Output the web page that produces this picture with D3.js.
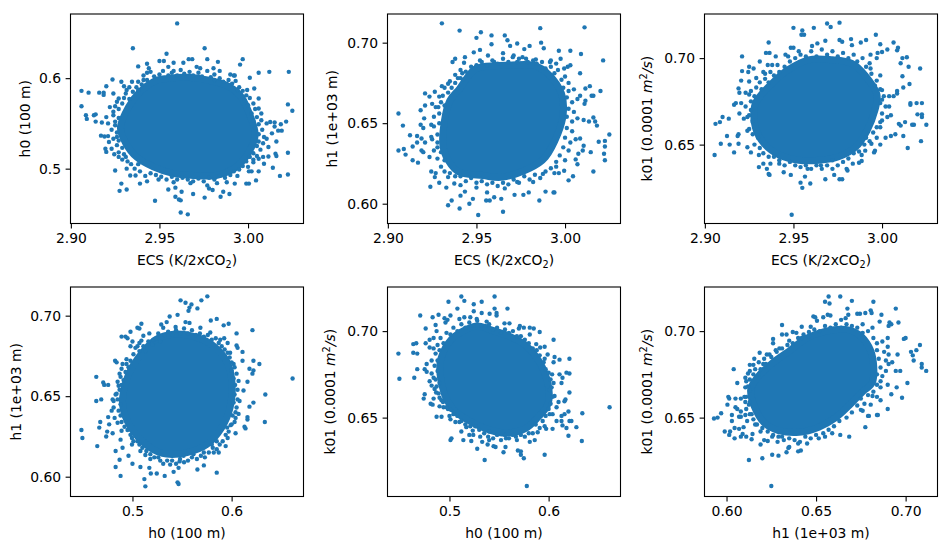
<!DOCTYPE html>
<html>
<meta charset="utf-8">
<style>
body { margin: 0; background: #fff; }
text { font-family: "DejaVu Sans", sans-serif; font-size: 13.9px; fill: #000; }
.domain { display: none; }
.tick line { stroke: #000; stroke-width: 1.1; }
.frame { fill: none; stroke: #000; stroke-width: 1.1; }
</style>
<body>
<script src="https://cdn.jsdelivr.net/npm/d3@7"></script>
<script>

var color = '#1f77b4';

/* axis limits and ticks */
var ecsDomain = [2.8998, 3.0313], h0Domain = [0.4375, 0.6725],
    h0YDomain = [0.4394, 0.6709], h1Domain = [0.5877, 0.7178], k01Domain = [0.6044, 0.7255];
var ecsTicks = [2.90, 2.95, 3.00], h0Ticks = [0.5, 0.6], h1Ticks = [0.60, 0.65, 0.70], k01Ticks = [0.65, 0.70];

/* Points are [x, y] as read one by one. Where the marks overlap into solid colour single
   points can't be read, so the *Core arrays hold the outline of that solid region and the
   *Edge arrays are estimated points along its rough edge. */
var ecsH0Core = [[2.954,.5995],[2.9655,.601],[2.977,.598],[2.988,.592],[2.9955,.581],[3.000,.5645],[3.004,.539],[3.001,.520],[2.9935,.502],[2.982,.4925],[2.969,.4925],[2.958,.4945],[2.9465,.502],[2.937,.513],[2.931,.528],[2.928,.546],[2.9325,.568],[2.939,.585],[2.9465,.596]];
var ecsH0Edge = [[2.941,.603],[2.945,.607],[2.947,.602],[2.950,.604],[2.952,.608],[2.955,.603],[2.957,.606],[2.960,.603],[2.962,.609],[2.964,.605],[2.967,.607],[2.969,.603],[2.972,.606],[2.974,.602],[2.977,.608],[2.979,.601],[2.981,.598],[2.984,.600],[2.986,.596],[2.989,.598],[2.991,.594],[2.993,.597],[2.995,.590],[2.997,.586],[2.994,.587],[2.999,.581],[3.001,.578],[2.998,.575],[3.003,.572],[3.000,.570],[3.004,.566],[3.002,.561],[3.005,.557],[3.003,.553],[3.006,.549],[3.004,.545],[3.008,.543],[3.006,.538],[3.009,.535],[3.006,.530],[3.005,.525],[3.007,.521],[3.003,.517],[3.005,.514],[3.001,.513],[3.003,.507],[2.999,.508],[2.997,.503],[3.000,.502],[2.995,.499],[2.992,.497],[2.994,.492],[2.990,.493],[2.987,.490],[2.984,.492],[2.981,.488],[2.978,.490],[2.975,.486],[2.972,.489],[2.969,.486],[2.966,.488],[2.963,.490],[2.960,.488],[2.957,.491],[2.954,.488],[2.951,.491],[2.948,.493],[2.945,.495],[2.942,.492],[2.939,.497],[2.936,.500],[2.938,.505],[2.934,.505],[2.932,.508],[2.929,.510],[2.930,.516],[2.927,.518],[2.929,.523],[2.926,.526],[2.927,.531],[2.924,.533],[2.926,.540],[2.923,.543],[2.925,.552],[2.927,.556],[2.924,.563],[2.927,.566],[2.929,.572],[2.926,.574],[2.930,.578],[2.933,.577],[2.931,.583],[2.935,.585],[2.933,.590],[2.937,.590],[2.940,.593],[2.938,.587],[2.943,.598]];
var ecsH0 = [[2.960,.6605],[2.935,.633],[2.9755,.633],[2.954,.627],[2.950,.619],[2.9525,.619],[2.958,.617],[2.977,.621],[2.983,.618],[2.997,.621],[2.9955,.615],[2.9665,.621],[2.9685,.621],[2.9635,.617],[2.938,.613],[2.943,.616],[3.006,.606],[3.012,.607],[3.023,.607],[3.0225,.571],[3.025,.564],[2.906,.586],[2.910,.584],[2.906,.569],[2.916,.584],[2.9185,.584],[2.9185,.5815],[2.920,.591],[2.9235,.5985],[2.924,.583],[2.9085,.559],[2.909,.555],[2.913,.559],[2.914,.560],[2.914,.552],[2.9175,.551],[2.917,.5365],[2.919,.5355],[2.921,.536],[2.9195,.522],[2.920,.5185],[2.925,.498],[2.9285,.4835],[2.9275,.4755],[2.9315,.477],[2.9475,.4645],[2.962,.4515],[2.966,.4495],[2.962,.465],[2.961,.466],[2.959,.469],[2.9625,.4745],[2.955,.477],[2.959,.479],[2.969,.472],[2.9755,.468],[2.9845,.469],[2.9895,.472],[2.986,.4745],[2.978,.478],[2.980,.4765],[2.9925,.4835],[2.999,.4835],[3.0005,.4835],[3.0045,.487],[3.014,.501],[3.018,.492],[3.0225,.4935],[3.0225,.5175],[3.0155,.5165],[3.016,.514],[3.016,.530],[3.019,.542],[3.0215,.552],[3.0185,.549],[3.015,.551],[3.015,.5465],[3.017,.542],[3.0135,.539],[3.009,.5055],[3.006,.497],[3.002,.497],[3.0005,.497],[3.006,.511],[3.0085,.513],[3.0115,.5135],[3.003,.51],[3.0115,.524],[3.0085,.528],[3.0105,.533],[3.0125,.5515],[3.0105,.55],[3.0075,.5535],[3.0075,.561],[3.006,.5665],[3.006,.5775],[3.0035,.5885],[3.001,.6005],[2.9995,.587],[2.990,.604],[2.992,.603],[2.9925,.603],[2.984,.608],[2.9805,.611],[2.981,.604],[2.973,.611],[2.971,.6125],[2.958,.608],[2.955,.6125],[2.944,.611],[2.943,.606],[2.941,.598],[2.938,.596],[2.9345,.596],[2.9285,.596],[2.930,.591],[2.9315,.587],[2.927,.5775],[2.925,.569],[2.922,.568],[2.924,.559],[2.920,.557],[2.921,.55],[2.925,.548],[2.926,.535],[2.9215,.5295],[2.923,.522],[2.9245,.516],[2.927,.513],[2.931,.513],[2.9315,.5],[2.9335,.4925],[2.9365,.4925],[2.939,.4835],[2.943,.486],[2.9495,.488],[2.958,.485],[2.9675,.484],[2.977,.4815],[2.9825,.484],[2.988,.485]];

var ecsH1Core = [[2.9535,.685],[2.9685,.686],[2.982,.686],[2.991,.680],[2.998,.6685],[2.999,.656],[2.996,.6435],[2.989,.629],[2.980,.622],[2.965,.6165],[2.9535,.6175],[2.9405,.6195],[2.934,.627],[2.931,.637],[2.932,.652],[2.935,.664],[2.9405,.6715],[2.9475,.682]];
var ecsH1Edge = [[2.941,.678],[2.944,.682],[2.947,.685],[2.950,.686],[2.953,.688],[2.956,.686],[2.959,.689],[2.962,.687],[2.965,.690],[2.968,.688],[2.971,.692],[2.973,.688],[2.976,.691],[2.979,.688],[2.982,.689],[2.984,.687],[2.987,.688],[2.989,.684],[2.992,.685],[2.994,.681],[2.996,.683],[2.998,.677],[3.000,.679],[3.002,.675],[2.999,.672],[3.002,.670],[3.005,.671],[3.001,.666],[3.004,.663],[3.007,.665],[3.002,.659],[3.005,.657],[3.001,.654],[3.004,.651],[3.007,.653],[3.001,.647],[3.004,.645],[3.000,.641],[3.003,.638],[3.006,.640],[2.999,.635],[3.002,.633],[2.997,.630],[3.000,.627],[2.995,.626],[2.992,.622],[2.994,.619],[2.989,.620],[2.986,.616],[2.983,.618],[2.980,.615],[2.977,.617],[2.974,.613],[2.971,.615],[2.968,.612],[2.965,.613],[2.962,.611],[2.959,.613],[2.956,.612],[2.953,.614],[2.950,.613],[2.947,.616],[2.944,.614],[2.941,.617],[2.938,.617],[2.935,.619],[2.932,.620],[2.930,.623],[2.932,.627],[2.928,.628],[2.930,.632],[2.926,.633],[2.928,.638],[2.925,.640],[2.928,.643],[2.926,.648],[2.929,.650],[2.926,.654],[2.929,.656],[2.927,.660],[2.930,.663],[2.932,.661],[2.931,.667],[2.934,.669],[2.932,.672],[2.936,.672],[2.935,.676],[2.938,.675],[2.938,.680],[2.941,.683]];
var ecsH1 = [[2.9305,.712],[2.9405,.7075],[2.9525,.7065],[2.950,.703],[2.9585,.7045],[2.966,.7045],[2.9675,.7015],[2.9585,.699],[2.973,.6995],[2.969,.698],[2.980,.698],[2.977,.696],[2.986,.709],[3.011,.7095],[2.9865,.700],[2.988,.6965],[2.9965,.695],[3.003,.695],[3.009,.693],[3.0215,.689],[2.9975,.690],[2.992,.689],[3.003,.686],[3.0015,.685],[3.0085,.681],[2.9995,.684],[3.0115,.6715],[3.014,.673],[3.020,.670],[3.015,.667],[3.016,.667],[3.0085,.667],[3.0115,.664],[3.011,.662],[3.0105,.652],[3.016,.6535],[3.017,.651],[3.0135,.651],[3.018,.6485],[3.025,.643],[3.0225,.639],[3.019,.6385],[3.0225,.6355],[3.022,.631],[3.0225,.627],[3.0145,.632],[3.016,.620],[3.0105,.636],[3.0085,.6405],[3.010,.633],[3.0075,.631],[3.006,.6275],[3.007,.6245],[3.0045,.617],[3.002,.6145],[2.9995,.6205],[2.9965,.619],[2.995,.623],[2.9935,.607],[2.994,.607],[2.989,.6075],[2.9855,.602],[2.9795,.607],[2.9765,.6055],[2.9715,.6055],[2.965,.595],[2.951,.593],[2.946,.600],[2.948,.603],[2.9405,.597],[2.934,.599],[2.936,.602],[2.941,.605],[2.9435,.6075],[2.950,.61],[2.9555,.602],[2.9575,.602],[2.960,.604],[2.964,.603],[2.956,.607],[2.966,.6095],[2.973,.6135],[2.982,.6135],[2.9875,.6185],[2.924,.6105],[2.933,.61],[2.929,.613],[2.9265,.6165],[2.9245,.62],[2.927,.619],[2.934,.6165],[2.9375,.6125],[2.941,.6115],[2.917,.6255],[2.914,.627],[2.910,.6305],[2.906,.633],[2.909,.634],[2.914,.6355],[2.9165,.638],[2.9165,.642],[2.9125,.6425],[2.9085,.6485],[2.906,.656],[2.919,.633],[2.920,.632],[2.919,.6405],[2.921,.638],[2.92,.647],[2.9185,.649],[2.9205,.653],[2.9185,.658],[2.921,.661],[2.921,.6685],[2.9235,.6665],[2.9265,.6695],[2.925,.662],[2.9305,.673],[2.9285,.660],[2.9245,.649],[2.9245,.6415],[2.9235,.629],[2.928,.635],[2.929,.6665],[2.934,.6745],[2.9365,.688],[2.938,.690],[2.9435,.691],[2.943,.6875],[2.9485,.694],[2.952,.6955],[2.952,.689],[2.9565,.692],[2.960,.688],[2.965,.6935],[2.9705,.691],[2.974,.690],[2.978,.690],[2.9835,.6895],[2.9915,.688],[2.995,.687],[2.942,.681],[2.9395,.678],[2.9425,.677]];

var ecsK01Core = [[2.9585,.699],[2.972,.699],[2.983,.697],[2.9905,.690],[2.997,.6795],[2.996,.670],[2.9915,.658],[2.985,.6485],[2.9755,.643],[2.9645,.641],[2.953,.641],[2.942,.644],[2.9335,.6505],[2.9285,.660],[2.928,.672],[2.9315,.6785],[2.938,.6855],[2.9465,.693]];
var ecsK01Edge = [[2.936,.686],[2.939,.690],[2.942,.692],[2.941,.696],[2.945,.695],[2.948,.698],[2.947,.701],[2.951,.700],[2.954,.702],[2.957,.701],[2.960,.704],[2.963,.701],[2.966,.705],[2.969,.702],[2.972,.704],[2.975,.701],[2.978,.703],[2.981,.700],[2.984,.702],[2.986,.698],[2.989,.700],[2.991,.695],[2.993,.697],[2.994,.691],[2.997,.687],[2.996,.684],[2.999,.682],[3.001,.678],[2.999,.674],[3.002,.672],[3.000,.668],[3.003,.666],[2.999,.663],[2.997,.660],[2.995,.657],[2.997,.654],[2.993,.652],[2.991,.654],[2.990,.650],[2.987,.646],[2.984,.645],[2.981,.642],[2.978,.640],[2.975,.638],[2.972,.641],[2.969,.638],[2.966,.636],[2.963,.638],[2.960,.636],[2.957,.638],[2.951,.638],[2.948,.640],[2.945,.638],[2.942,.641],[2.939,.643],[2.936,.643],[2.933,.645],[2.931,.648],[2.928,.650],[2.930,.654],[2.927,.656],[2.925,.659],[2.927,.664],[2.924,.666],[2.926,.670],[2.923,.672],[2.926,.675],[2.928,.678],[2.926,.681],[2.929,.683],[2.932,.682],[2.931,.686],[2.934,.688],[2.933,.692],[2.937,.692]];
var ecsK01 = [[2.949,.6095],[2.950,.7175],[2.955,.716],[2.9545,.7135],[2.956,.7135],[2.9615,.7175],[2.969,.720],[2.971,.718],[2.976,.7205],[2.936,.709],[2.9965,.7135],[2.999,.708],[3.0065,.709],[2.9825,.711],[2.976,.7105],[2.9775,.7095],[2.968,.71],[2.988,.709],[2.991,.7105],[2.983,.7075],[2.921,.701],[2.9345,.703],[2.9365,.703],[2.931,.698],[2.9485,.706],[2.950,.706],[2.953,.704],[2.9605,.707],[2.9635,.7085],[3.003,.705],[3.009,.706],[3.0085,.7045],[3.0,.7035],[2.9975,.703],[3.0115,.700],[3.014,.7005],[3.015,.695],[3.0105,.697],[3.0215,.694],[3.0115,.6895],[3.0155,.685],[3.012,.683],[3.0085,.681],[3.0085,.6795],[3.0065,.678],[3.016,.674],[3.016,.673],[3.0195,.674],[3.0225,.674],[3.02,.6675],[3.0225,.6675],[3.0225,.666],[3.025,.6615],[3.018,.6615],[3.017,.6615],[3.013,.663],[3.0095,.662],[3.0105,.661],[3.022,.652],[3.012,.655],[3.0145,.648],[3.0075,.656],[3.005,.655],[3.002,.654],[2.999,.65],[2.996,.6465],[2.9955,.6455],[2.906,.662],[2.9085,.663],[2.910,.666],[2.9135,.665],[2.9125,.655],[2.909,.6505],[2.914,.65],[2.9055,.644],[2.9165,.6455],[2.919,.656],[2.9185,.655],[2.919,.6505],[2.9165,.673],[2.9175,.674],[2.9195,.68],[2.919,.6825],[2.921,.6925],[2.9205,.687],[2.925,.695],[2.9245,.692],[2.9275,.694],[2.925,.6865],[2.929,.6885],[2.934,.691],[2.9355,.696],[2.923,.68],[2.925,.679],[2.9205,.674],[2.9195,.668],[2.922,.665],[2.925,.667],[2.924,.658],[2.927,.663],[2.924,.6485],[2.926,.6455],[2.9305,.644],[2.9305,.637],[2.935,.636],[2.936,.633],[2.9365,.6325],[2.9445,.634],[2.9485,.6325],[2.933,.639],[2.937,.639],[2.942,.639],[2.9565,.6315],[2.954,.628],[2.955,.625],[2.9595,.6275],[2.968,.63],[2.973,.6325],[2.976,.63],[2.9775,.63],[2.98,.636],[2.9805,.635],[2.9835,.639],[2.987,.6395],[2.9885,.6405],[2.9655,.638],[2.972,.636],[2.958,.636],[2.954,.637],[2.9905,.6465],[2.994,.6505],[2.9885,.644],[2.94,.701],[2.9455,.702],[2.938,.696],[3.0,.676],[3.004,.672],[3.005,.667],[3.0,.664],[2.999,.660],[2.997,.7],[2.9935,.702],[2.9935,.694],[2.999,.69],[3.0,.6815],[3.004,.678]];

var h0H1Core = [[.5415,.6885],[.565,.6865],[.582,.681],[.5955,.671],[.6005,.6575],[.5985,.643],[.590,.6305],[.575,.62],[.555,.615],[.5345,.614],[.518,.618],[.5025,.627],[.4925,.638],[.490,.649],[.496,.6635],[.506,.674],[.523,.685]];
var h0H1Edge = [[.507,.678],[.511,.681],[.513,.678],[.516,.684],[.520,.682],[.524,.686],[.528,.684],[.532,.688],[.536,.690],[.540,.688],[.544,.691],[.548,.689],[.552,.692],[.556,.689],[.560,.691],[.564,.688],[.568,.689],[.572,.687],[.576,.688],[.580,.685],[.584,.686],[.587,.683],[.590,.681],[.593,.679],[.596,.677],[.598,.674],[.600,.671],[.603,.668],[.600,.666],[.605,.664],[.602,.661],[.606,.654],[.603,.651],[.606,.648],[.602,.646],[.604,.640],[.601,.638],[.603,.634],[.599,.632],[.597,.628],[.594,.626],[.591,.622],[.588,.620],[.585,.617],[.581,.618],[.577,.615],[.573,.612],[.569,.613],[.565,.611],[.560,.612],[.556,.610],[.552,.609],[.548,.611],[.544,.608],[.540,.610],[.535,.610],[.531,.608],[.526,.612],[.522,.612],[.518,.614],[.514,.616],[.510,.618],[.505,.622],[.501,.622],[.498,.626],[.495,.629],[.492,.631],[.489,.634],[.488,.638],[.486,.641],[.488,.645],[.485,.648],[.487,.654],[.489,.657],[.491,.660],[.489,.667],[.493,.665],[.496,.668],[.494,.673],[.498,.672],[.501,.676],[.503,.680],[.507,.683]];
var h0H1 = [[.6615,.661],[.4485,.629],[.4495,.624],[.4645,.619],[.4635,.662],[.4705,.6585],[.4715,.657],[.4755,.657],[.4635,.647],[.4685,.648],[.4665,.6305],[.4675,.634],[.4735,.625],[.4745,.628],[.480,.627],[.483,.616],[.483,.606],[.488,.6005],[.487,.6105],[.512,.5985],[.513,.594],[.508,.606],[.5,.608],[.496,.613],[.5325,.6005],[.5415,.603],[.5455,.5965],[.5465,.5955],[.517,.6055],[.5185,.602],[.5245,.602],[.5655,.6045],[.572,.607],[.585,.6025],[.5475,.6095],[.5465,.6055],[.587,.615],[.582,.615],[.594,.619],[.596,.624],[.604,.627],[.613,.631],[.614,.63],[.6335,.634],[.616,.6355],[.616,.637],[.607,.639],[.604,.6365],[.634,.651],[.618,.6435],[.622,.646],[.612,.6535],[.616,.659],[.628,.670],[.622,.672],[.618,.667],[.622,.666],[.621,.664],[.611,.672],[.611,.6775],[.621,.691],[.605,.689],[.605,.6815],[.606,.68],[.596,.683],[.5925,.686],[.597,.695],[.592,.694],[.585,.698],[.579,.697],[.5755,.712],[.5695,.7095],[.5485,.7095],[.5535,.708],[.5595,.707],[.5575,.705],[.5565,.703],[.5655,.7045],[.5455,.7005],[.5375,.6995],[.5535,.696],[.5575,.6955],[.529,.6945],[.5345,.696],[.5435,.693],[.509,.695],[.505,.6925],[.507,.692],[.498,.69],[.489,.687],[.493,.687],[.495,.686],[.511,.6875],[.509,.6845],[.517,.689],[.526,.689],[.521,.685],[.5,.684],[.505,.681],[.498,.681],[.4825,.672],[.484,.671],[.49,.670],[.494,.670],[.487,.664],[.488,.662],[.485,.659],[.486,.6565],[.484,.6515],[.483,.651],[.48,.648],[.481,.647],[.481,.643],[.479,.641],[.4755,.637],[.4765,.6325],[.482,.6365],[.485,.6335],[.489,.6285],[.488,.623],[.49,.618],[.4995,.62],[.4995,.624],[.507,.62],[.508,.616],[.513,.6135],[.518,.611],[.528,.61],[.538,.6075],[.5515,.613],[.5615,.614],[.572,.615],[.58,.62],[.585,.622],[.5955,.6305],[.6,.6325],[.605,.643],[.608,.647],[.6035,.657],[.607,.6595],[.602,.67],[.5985,.677],[.5885,.685],[.5785,.6895],[.5685,.6925],[.531,.6925]];

var h0K01Core = [[.5405,.701],[.5605,.697],[.5775,.6915],[.591,.682],[.5995,.6695],[.5995,.658],[.589,.650],[.576,.6435],[.557,.641],[.537,.6435],[.517,.649],[.5035,.655],[.495,.6635],[.4905,.675],[.4915,.6845],[.5015,.695],[.517,.701],[.5285,.703]];
var h0K01Edge = [[.488,.692],[.491,.696],[.494,.693],[.497,.699],[.501,.698],[.504,.702],[.508,.700],[.512,.704],[.516,.702],[.520,.705],[.524,.703],[.528,.706],[.532,.703],[.536,.703],[.540,.704],[.544,.701],[.548,.702],[.552,.699],[.556,.701],[.560,.699],[.564,.700],[.568,.697],[.572,.697],[.576,.695],[.580,.693],[.584,.690],[.588,.689],[.591,.686],[.595,.682],[.597,.678],[.600,.676],[.602,.672],[.605,.670],[.601,.666],[.604,.662],[.602,.658],[.600,.655],[.604,.652],[.597,.651],[.594,.648],[.596,.645],[.591,.644],[.587,.646],[.584,.641],[.580,.641],[.576,.639],[.572,.640],[.568,.637],[.564,.640],[.560,.638],[.556,.640],[.552,.637],[.548,.640],[.544,.638],[.540,.642],[.535,.641],[.530,.643],[.526,.645],[.521,.645],[.516,.646],[.512,.648],[.508,.651],[.504,.652],[.500,.651],[.497,.656],[.494,.656],[.492,.660],[.489,.664],[.487,.668],[.490,.670],[.486,.672],[.488,.677],[.485,.680],[.488,.683],[.486,.687],[.490,.689]];
var h0K01 = [[.6615,.656],[.578,.6105],[.5355,.6255],[.575,.6265],[.572,.6285],[.569,.631],[.572,.6305],[.596,.6285],[.5545,.63],[.5565,.633],[.528,.632],[.5385,.6345],[.5445,.6335],[.5465,.633],[.501,.637],[.502,.638],[.514,.637],[.522,.6365],[.512,.642],[.52,.64],[.524,.64],[.531,.639],[.533,.636],[.54,.637],[.6335,.6365],[.62,.6395],[.628,.6445],[.621,.648],[.623,.648],[.613,.648],[.614,.6455],[.618,.644],[.634,.6525],[.62,.6535],[.616,.652],[.613,.651],[.616,.6595],[.617,.6605],[.61,.659],[.621,.6645],[.614,.673],[.613,.67],[.621,.6755],[.618,.676],[.611,.675],[.621,.684],[.611,.6835],[.606,.685],[.605,.695],[.605,.682],[.599,.6865],[.596,.684],[.5915,.6905],[.596,.691],[.591,.6995],[.585,.7015],[.581,.702],[.575,.702],[.57,.7015],[.5585,.713],[.5455,.72],[.5455,.713],[.5475,.7105],[.5475,.709],[.5325,.717],[.5245,.7155],[.515,.7175],[.512,.72],[.499,.717],[.508,.713],[.5245,.7115],[.5325,.7105],[.5405,.71],[.521,.708],[.5275,.707],[.5375,.7055],[.5555,.7045],[.5605,.7045],[.571,.703],[.515,.708],[.51,.707],[.4705,.709],[.483,.708],[.489,.7095],[.495,.7075],[.501,.709],[.498,.7065],[.496,.705],[.476,.7015],[.487,.7],[.486,.7035],[.48,.695],[.484,.696],[.4635,.6925],[.4665,.693],[.476,.693],[.48,.6905],[.484,.69],[.4485,.687],[.4635,.6875],[.4675,.687],[.4495,.6725],[.4645,.673],[.4675,.678],[.475,.678],[.477,.6765],[.477,.681],[.482,.683],[.482,.6755],[.484,.673],[.48,.671],[.482,.6685],[.485,.6665],[.475,.6635],[.474,.661],[.484,.661],[.481,.658],[.483,.6575],[.49,.6565],[.487,.6505],[.492,.6505],[.501,.649],[.506,.6475],[.51,.6475],[.4985,.655],[.5015,.6545],[.49,.6615],[.4935,.659],[.4865,.6645],[.517,.6445],[.5235,.6425],[.539,.639],[.557,.638],[.567,.639],[.581,.636],[.586,.637],[.589,.6415],[.5975,.6435],[.604,.6435],[.608,.648],[.601,.652],[.608,.656],[.606,.6625],[.603,.6675],[.6035,.675],[.5875,.6925],[.581,.698]];

var h1K01Core = [[.635,.6885],[.644,.6955],[.6555,.700],[.6665,.701],[.674,.698],[.6795,.691],[.682,.682],[.6815,.6705],[.676,.665],[.6685,.657],[.661,.650],[.6515,.6445],[.6405,.6415],[.629,.6425],[.621,.647],[.6155,.6565],[.6135,.666],[.617,.673],[.6255,.6815]];
var h1K01Edge = [[.619,.678],[.622,.681],[.625,.685],[.628,.688],[.631,.690],[.634,.692],[.637,.693],[.640,.696],[.643,.698],[.646,.697],[.649,.701],[.652,.700],[.655,.703],[.658,.702],[.661,.704],[.664,.702],[.667,.704],[.670,.703],[.673,.702],[.676,.699],[.679,.700],[.682,.696],[.684,.693],[.687,.694],[.684,.689],[.688,.688],[.685,.684],[.689,.683],[.686,.679],[.689,.677],[.684,.675],[.687,.674],[.684,.669],[.682,.665],[.684,.662],[.679,.663],[.677,.658],[.673,.657],[.675,.661],[.670,.653],[.667,.650],[.663,.648],[.660,.645],[.657,.643],[.654,.641],[.650,.640],[.647,.638],[.644,.639],[.641,.636],[.638,.637],[.635,.638],[.632,.637],[.629,.639],[.626,.640],[.623,.642],[.620,.644],[.617,.646],[.615,.649],[.613,.652],[.611,.655],[.613,.659],[.611,.662],[.612,.668],[.611,.671],[.613,.672],[.615,.675],[.613,.677],[.616,.678],[.618,.675],[.621,.684]];
var h1K01 = [[.625,.6105],[.6125,.6255],[.62,.6265],[.6255,.6285],[.629,.628],[.6335,.63],[.6345,.6325],[.635,.633],[.640,.6305],[.6415,.631],[.64,.635],[.645,.635],[.593,.6495],[.595,.65],[.597,.6525],[.599,.642],[.602,.642],[.6015,.64],[.603,.648],[.603,.6515],[.6045,.644],[.6045,.638],[.607,.6435],[.608,.639],[.609,.6405],[.6095,.6445],[.611,.639],[.614,.6375],[.6145,.6405],[.607,.6505],[.608,.6505],[.6105,.6515],[.6115,.648],[.605,.656],[.606,.655],[.608,.6535],[.6005,.6575],[.6015,.661],[.601,.662],[.605,.661],[.608,.661],[.61,.662],[.6105,.659],[.606,.67],[.604,.678],[.6105,.673],[.612,.6755],[.613,.6805],[.615,.6805],[.6155,.684],[.6185,.6875],[.618,.682],[.6205,.681],[.6105,.6675],[.613,.6655],[.6125,.6575],[.614,.652],[.616,.646],[.619,.642],[.619,.6345],[.621,.637],[.623,.6365],[.6255,.639],[.6285,.636],[.631,.639],[.6515,.638],[.655,.639],[.659,.641],[.6635,.64],[.6685,.639],[.6775,.6445],[.675,.6545],[.676,.654],[.679,.651],[.6795,.651],[.684,.6515],[.6845,.6515],[.69,.655],[.686,.66],[.692,.6635],[.698,.6615],[.695,.6675],[.701,.67],[.69,.669],[.686,.6675],[.6815,.6625],[.6805,.6575],[.686,.671],[.6945,.677],[.697,.677],[.7115,.677],[.709,.679],[.709,.681],[.7045,.683],[.704,.686],[.703,.688],[.706,.689],[.708,.692],[.70,.696],[.699,.6955],[.696,.705],[.6945,.713],[.691,.705],[.692,.704],[.6905,.703],[.6865,.7095],[.6855,.7055],[.682,.717],[.6805,.712],[.681,.7105],[.67,.7175],[.6635,.72],[.657,.72],[.6575,.716],[.655,.717],[.6675,.713],[.6745,.71],[.673,.71],[.6775,.7105],[.668,.7095],[.6565,.7095],[.658,.709],[.654,.708],[.6485,.7085],[.6495,.708],[.664,.7065],[.6665,.7075],[.6505,.706],[.642,.7025],[.647,.7025],[.631,.7035],[.631,.698],[.6335,.698],[.637,.6995],[.639,.699],[.626,.6955],[.626,.693],[.6295,.69],[.6225,.6865],[.624,.6865],[.6275,.689],[.635,.6945],[.642,.696],[.646,.6995],[.676,.704],[.6815,.702],[.69,.696],[.6905,.6865],[.6955,.6865],[.69,.691],[.6905,.681],[.6925,.682]];

var h0Label = 'h0 (100 m)', h1Label = 'h1 (1e+03 m)';

var svg = d3.select('body').append('svg')
    .attr('width', 949)
    .attr('height', 550);

function ecsXLabel(t) {
    t.append('tspan').text('ECS (K/2xCO');
    t.append('tspan').attr('dy', 3).style('font-size', '9.7px').text('2');
    t.append('tspan').attr('dy', -3).text(')');
}

function k01YLabel(t) {
    t.append('tspan').text('k01 (0.0001 ');
    t.append('tspan').style('font-style', 'italic').text('m');
    t.append('tspan').attr('dy', -5).style('font-size', '9.7px').text('2');
    t.append('tspan').attr('dy', 5).style('font-style', 'italic').text('/s');
    t.append('tspan').text(')');
}

function plainLabel(s) {
    return function(t) { t.text(s); };
}

function panel(left, top, xDomain, yDomain, xTicks, yTicks, xFmt, yFmt, core, points, xLab, yLab, yLabX) {
    var w = 233, h = 209.5;
    var x = d3.scaleLinear().domain(xDomain).range([0, w]);
    var y = d3.scaleLinear().domain(yDomain).range([h, 0]);
    var g = svg.append('g').attr('transform', 'translate(' + left + ',' + top + ')');

    var line = d3.line()
        .x(function(d) { return x(d[0]); })
        .y(function(d) { return y(d[1]); })
        .curve(d3.curveCardinalClosed);

    /* thick stroke closes the gap between the solid region and the edge points */
    g.append('path').attr('d', line(core))
        .attr('fill', color)
        .attr('stroke', color)
        .attr('stroke-width', 7)
        .attr('stroke-linejoin', 'round');

    g.selectAll('circle').data(points).enter().append('circle')
        .attr('cx', function(d) { return x(d[0]); })
        .attr('cy', function(d) { return y(d[1]); })
        .attr('r', 2.2)
        .attr('fill', color);

    g.append('rect').attr('class', 'frame').attr('width', w).attr('height', h);

    g.append('g').attr('transform', 'translate(0,' + h + ')')
        .call(d3.axisBottom(x).tickValues(xTicks).tickFormat(d3.format(xFmt)).tickSize(4.9).tickPadding(4.5));
    g.append('g')
        .call(d3.axisLeft(y).tickValues(yTicks).tickFormat(d3.format(yFmt)).tickSize(4.9).tickPadding(4.5));

    g.selectAll('.tick text').style('font-size', '13.9px').style('font-family', '"DejaVu Sans", sans-serif');

    g.append('text').attr('x', w / 2).attr('y', h + 41).attr('text-anchor', 'middle').call(xLab);
    g.append('text').attr('transform', 'translate(' + (yLabX - left) + ',' + (h / 2) + ') rotate(-90)')
        .attr('text-anchor', 'middle').call(yLab);
}

var h0Text = plainLabel(h0Label), h1Text = plainLabel(h1Label);

panel(70.5, 14, ecsDomain, h0YDomain, ecsTicks, h0Ticks, '.2f', '.1f', ecsH0Core, ecsH0.concat(ecsH0Edge), ecsXLabel, h0Text, 30);
panel(387.5, 14, ecsDomain, h1Domain, ecsTicks, h1Ticks, '.2f', '.2f', ecsH1Core, ecsH1.concat(ecsH1Edge), ecsXLabel, h1Text, 337);
panel(704.5, 14, ecsDomain, k01Domain, ecsTicks, k01Ticks, '.2f', '.2f', ecsK01Core, ecsK01.concat(ecsK01Edge), ecsXLabel, k01YLabel, 652);
panel(70.5, 287, h0Domain, h1Domain, h0Ticks, h1Ticks, '.1f', '.2f', h0H1Core, h0H1.concat(h0H1Edge), h0Text, h1Text, 21);
panel(387.5, 287, h0Domain, k01Domain, h0Ticks, k01Ticks, '.1f', '.2f', h0K01Core, h0K01.concat(h0K01Edge), h0Text, k01YLabel, 335);
panel(704.5, 287, h1Domain, k01Domain, h1Ticks, k01Ticks, '.2f', '.2f', h1K01Core, h1K01.concat(h1K01Edge), h1Text, k01YLabel, 652);

</script>
</body>
</html>
